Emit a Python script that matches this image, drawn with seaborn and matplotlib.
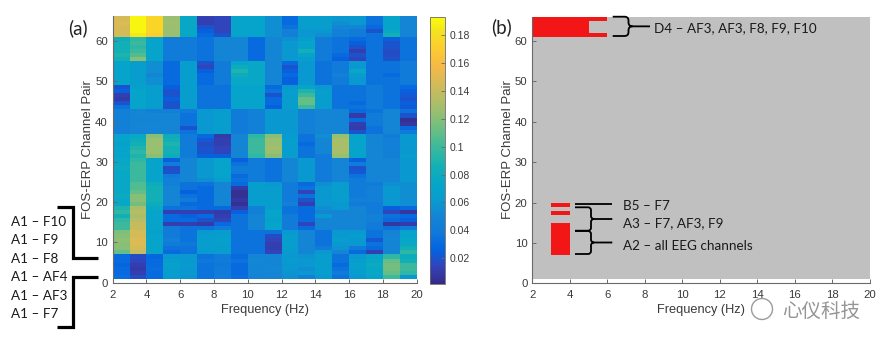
import numpy as np
import pandas as pd
import matplotlib
matplotlib.use("Agg")
import matplotlib.pyplot as plt
import seaborn as sns
from matplotlib.colors import LinearSegmentedColormap, ListedColormap
from matplotlib.path import Path
from matplotlib.patches import PathPatch, Ellipse
from matplotlib.lines import Line2D

# ---------------- data ----------------
freq_low = list(range(2, 20))          # lower edge of each 1 Hz bin (2..19 Hz)
channel_pairs = list(range(1, 67))     # FOS-ERP channel pair index

# coherence values per channel pair (rows) and frequency bin (columns)
pairs_01_06 = [
    [0.032,0.018,0.030,0.062,0.058,0.035,0.042,0.032,0.048,0.050,0.055,0.045,0.060,0.035,0.060,0.070,0.100,0.060],
    [0.030,0.012,0.030,0.065,0.060,0.035,0.040,0.030,0.050,0.050,0.058,0.060,0.065,0.040,0.065,0.075,0.110,0.095],
    [0.030,0.010,0.032,0.065,0.060,0.035,0.040,0.030,0.050,0.052,0.060,0.055,0.065,0.035,0.065,0.075,0.115,0.100],
    [0.028,0.012,0.030,0.068,0.062,0.035,0.038,0.030,0.050,0.050,0.060,0.060,0.065,0.030,0.068,0.078,0.115,0.100],
    [0.030,0.015,0.030,0.065,0.060,0.038,0.040,0.035,0.052,0.050,0.062,0.060,0.065,0.035,0.065,0.075,0.110,0.085],
    [0.030,0.018,0.028,0.060,0.060,0.035,0.040,0.030,0.050,0.050,0.060,0.058,0.065,0.035,0.060,0.070,0.095,0.080],
]
pairs_07_12 = [
    [0.110,0.140,0.070,0.030,0.035,0.062,0.065,0.035,0.035,0.015,0.062,0.050,0.060,0.050,0.030,0.012,0.050,0.095],
    [0.120,0.145,0.072,0.035,0.035,0.065,0.065,0.035,0.035,0.012,0.065,0.050,0.040,0.058,0.040,0.030,0.050,0.085],
    [0.120,0.148,0.070,0.040,0.038,0.065,0.065,0.035,0.035,0.012,0.065,0.050,0.035,0.060,0.060,0.035,0.050,0.075],
    [0.122,0.148,0.070,0.045,0.035,0.065,0.068,0.035,0.035,0.015,0.065,0.050,0.035,0.065,0.060,0.022,0.050,0.075],
    [0.120,0.145,0.070,0.040,0.035,0.065,0.065,0.035,0.035,0.018,0.065,0.050,0.035,0.060,0.065,0.035,0.050,0.070],
    [0.118,0.145,0.068,0.040,0.035,0.060,0.065,0.035,0.035,0.035,0.060,0.050,0.035,0.060,0.060,0.035,0.048,0.070],
]
pairs_13_18 = [
    [0.100,0.140,0.070,0.040,0.035,0.035,0.040,0.035,0.050,0.070,0.040,0.030,0.050,0.050,0.050,0.040,0.035,0.040],
    [0.100,0.140,0.070,0.012,0.012,0.010,0.030,0.035,0.050,0.070,0.040,0.015,0.050,0.050,0.050,0.040,0.008,0.010],
    [0.095,0.135,0.070,0.030,0.030,0.020,0.015,0.035,0.050,0.068,0.040,0.030,0.050,0.050,0.050,0.045,0.030,0.025],
    [0.085,0.130,0.070,0.030,0.025,0.030,0.012,0.035,0.050,0.070,0.040,0.030,0.060,0.050,0.050,0.045,0.035,0.030],
    [0.095,0.135,0.070,0.012,0.012,0.012,0.010,0.025,0.045,0.070,0.035,0.030,0.050,0.050,0.050,0.040,0.015,0.008],
    [0.090,0.130,0.075,0.035,0.035,0.030,0.030,0.012,0.045,0.065,0.035,0.030,0.055,0.060,0.050,0.040,0.025,0.030],
]
pairs_19_24 = [
    [0.075,0.115,0.080,0.050,0.030,0.030,0.050,0.005,0.065,0.065,0.045,0.012,0.060,0.060,0.040,0.040,0.060,0.055],
    [0.075,0.120,0.085,0.050,0.040,0.030,0.050,0.008,0.065,0.065,0.040,0.020,0.060,0.065,0.045,0.045,0.060,0.055],
    [0.078,0.120,0.085,0.050,0.035,0.030,0.050,0.005,0.065,0.065,0.040,0.035,0.060,0.065,0.040,0.045,0.060,0.055],
    [0.075,0.110,0.085,0.050,0.025,0.030,0.050,0.005,0.065,0.065,0.040,0.015,0.060,0.065,0.040,0.045,0.060,0.055],
    [0.075,0.105,0.085,0.050,0.035,0.030,0.050,0.010,0.065,0.065,0.040,0.035,0.060,0.065,0.040,0.045,0.060,0.055],
    [0.075,0.105,0.080,0.045,0.035,0.035,0.050,0.030,0.065,0.060,0.040,0.030,0.055,0.065,0.040,0.040,0.055,0.055],
]
pairs_25_30 = [
    [0.075,0.100,0.070,0.045,0.050,0.055,0.065,0.035,0.040,0.035,0.050,0.060,0.040,0.050,0.040,0.050,0.050,0.060],
    [0.075,0.100,0.070,0.040,0.050,0.060,0.070,0.030,0.040,0.035,0.050,0.060,0.040,0.050,0.035,0.050,0.050,0.060],
    [0.075,0.100,0.070,0.020,0.050,0.060,0.070,0.040,0.040,0.035,0.050,0.060,0.040,0.050,0.022,0.050,0.050,0.060],
    [0.078,0.100,0.070,0.018,0.050,0.060,0.070,0.040,0.040,0.035,0.050,0.060,0.040,0.050,0.020,0.050,0.050,0.060],
    [0.075,0.100,0.070,0.040,0.050,0.060,0.070,0.035,0.040,0.035,0.050,0.060,0.040,0.050,0.040,0.050,0.050,0.060],
    [0.075,0.095,0.070,0.025,0.050,0.060,0.070,0.025,0.040,0.035,0.050,0.060,0.040,0.050,0.025,0.050,0.050,0.060],
]
pairs_31_36 = [
    [0.070,0.090,0.120,0.080,0.040,0.025,0.025,0.050,0.095,0.120,0.065,0.035,0.040,0.125,0.070,0.050,0.045,0.065],
    [0.070,0.095,0.125,0.085,0.040,0.020,0.015,0.050,0.100,0.125,0.065,0.035,0.050,0.130,0.070,0.050,0.045,0.060],
    [0.070,0.090,0.125,0.085,0.040,0.020,0.015,0.050,0.100,0.128,0.065,0.035,0.050,0.130,0.070,0.050,0.045,0.060],
    [0.068,0.085,0.125,0.090,0.040,0.018,0.012,0.050,0.100,0.125,0.065,0.030,0.050,0.130,0.070,0.050,0.045,0.060],
    [0.070,0.080,0.125,0.085,0.040,0.022,0.012,0.050,0.100,0.125,0.065,0.035,0.050,0.130,0.070,0.050,0.045,0.060],
    [0.070,0.075,0.120,0.080,0.040,0.030,0.010,0.050,0.095,0.120,0.062,0.035,0.055,0.125,0.070,0.050,0.040,0.060],
]
pairs_37_42 = [
    [0.045,0.050,0.050,0.050,0.035,0.060,0.065,0.040,0.045,0.060,0.060,0.045,0.050,0.050,0.020,0.035,0.050,0.040],
    [0.045,0.050,0.050,0.050,0.020,0.060,0.065,0.040,0.045,0.060,0.060,0.045,0.050,0.050,0.010,0.035,0.050,0.030],
    [0.045,0.050,0.050,0.050,0.035,0.060,0.065,0.040,0.045,0.060,0.060,0.045,0.050,0.050,0.012,0.040,0.050,0.008],
    [0.045,0.048,0.048,0.050,0.035,0.060,0.065,0.040,0.045,0.060,0.060,0.045,0.050,0.050,0.030,0.040,0.050,0.005],
    [0.045,0.050,0.050,0.050,0.035,0.060,0.065,0.040,0.045,0.060,0.060,0.045,0.050,0.050,0.010,0.040,0.050,0.020],
    [0.045,0.050,0.045,0.045,0.040,0.060,0.065,0.040,0.045,0.060,0.060,0.045,0.050,0.050,0.030,0.035,0.050,0.035],
]
pairs_43_48 = [
    [0.035,0.070,0.065,0.020,0.065,0.035,0.035,0.070,0.070,0.025,0.065,0.100,0.065,0.035,0.035,0.040,0.035,0.022],
    [0.020,0.070,0.065,0.020,0.065,0.035,0.035,0.070,0.070,0.030,0.065,0.110,0.065,0.035,0.030,0.040,0.035,0.025],
    [0.010,0.070,0.065,0.025,0.065,0.035,0.035,0.070,0.070,0.030,0.065,0.110,0.065,0.035,0.035,0.040,0.035,0.020],
    [0.012,0.070,0.065,0.020,0.065,0.035,0.035,0.070,0.070,0.020,0.065,0.100,0.065,0.035,0.035,0.040,0.035,0.022],
    [0.025,0.070,0.065,0.020,0.065,0.035,0.035,0.070,0.070,0.035,0.065,0.090,0.065,0.035,0.035,0.040,0.035,0.025],
    [0.020,0.068,0.065,0.025,0.065,0.035,0.035,0.070,0.070,0.030,0.060,0.070,0.060,0.035,0.035,0.040,0.035,0.030],
]
pairs_49_54 = [
    [0.070,0.065,0.055,0.030,0.065,0.030,0.040,0.075,0.075,0.050,0.025,0.060,0.035,0.040,0.060,0.035,0.035,0.040],
    [0.070,0.065,0.055,0.030,0.065,0.030,0.040,0.075,0.075,0.050,0.025,0.060,0.035,0.040,0.060,0.035,0.035,0.040],
    [0.070,0.065,0.050,0.030,0.065,0.030,0.040,0.080,0.075,0.050,0.030,0.060,0.035,0.045,0.065,0.035,0.030,0.040],
    [0.070,0.065,0.055,0.030,0.065,0.025,0.040,0.090,0.075,0.050,0.025,0.060,0.035,0.040,0.075,0.035,0.035,0.040],
    [0.070,0.065,0.055,0.030,0.065,0.015,0.040,0.080,0.075,0.050,0.020,0.060,0.035,0.040,0.060,0.035,0.035,0.040],
    [0.070,0.065,0.055,0.030,0.065,0.020,0.040,0.070,0.075,0.050,0.030,0.060,0.035,0.040,0.060,0.035,0.035,0.040],
]
pairs_55_60 = [
    [0.085,0.120,0.070,0.040,0.040,0.035,0.050,0.050,0.030,0.050,0.060,0.065,0.040,0.025,0.015,0.035,0.020,0.035],
    [0.090,0.105,0.070,0.040,0.040,0.035,0.050,0.050,0.030,0.050,0.060,0.070,0.040,0.030,0.020,0.035,0.018,0.035],
    [0.085,0.100,0.070,0.040,0.040,0.035,0.050,0.050,0.030,0.050,0.060,0.085,0.040,0.035,0.012,0.035,0.018,0.035],
    [0.085,0.095,0.070,0.040,0.040,0.035,0.050,0.050,0.030,0.050,0.060,0.070,0.040,0.035,0.020,0.035,0.020,0.035],
    [0.085,0.100,0.070,0.040,0.040,0.035,0.050,0.050,0.030,0.050,0.060,0.070,0.040,0.035,0.025,0.035,0.020,0.035],
    [0.080,0.095,0.070,0.040,0.040,0.035,0.050,0.050,0.030,0.050,0.055,0.065,0.040,0.035,0.030,0.035,0.025,0.035],
]
pairs_61_66 = [
    [0.145,0.185,0.170,0.125,0.075,0.030,0.020,0.070,0.070,0.055,0.045,0.060,0.055,0.045,0.040,0.035,0.085,0.050],
    [0.145,0.190,0.175,0.125,0.075,0.025,0.015,0.070,0.070,0.055,0.045,0.060,0.060,0.045,0.040,0.020,0.075,0.050],
    [0.145,0.190,0.175,0.125,0.075,0.020,0.015,0.070,0.070,0.055,0.035,0.065,0.065,0.050,0.050,0.030,0.070,0.050],
    [0.148,0.190,0.175,0.128,0.075,0.012,0.015,0.070,0.070,0.055,0.030,0.065,0.065,0.055,0.060,0.035,0.070,0.050],
    [0.145,0.190,0.175,0.125,0.075,0.012,0.015,0.070,0.070,0.055,0.030,0.065,0.065,0.060,0.060,0.035,0.070,0.050],
    [0.145,0.190,0.175,0.125,0.075,0.015,0.015,0.070,0.070,0.055,0.030,0.065,0.065,0.060,0.060,0.035,0.070,0.050],
]

# significant (red) cells in panel (b): channel pairs per frequency bin
sig_2to3_hz = [61, 62, 63, 64, 65, 66]
sig_3to4_hz = [7, 8, 9, 10, 11, 12, 13, 14, 17, 19, 61, 62, 63, 64, 65, 66]
sig_4to5_hz = [61, 62, 63, 64, 65, 66]
sig_5to6_hz = [61, 65, 66]

x_ticks = [2, 4, 6, 8, 10, 12, 14, 16, 18, 20]
y_ticks = [0, 10, 20, 30, 40, 50, 60]
cbar_ticks = [0.02, 0.04, 0.06, 0.08, 0.10, 0.12, 0.14, 0.16, 0.18]
c_min, c_max = 0.0016, 0.1927

left_pair_labels = ["A1 \u2013 F10", "A1 \u2013 F9", "A1 \u2013 F8",
                    "A1 \u2013 AF4", "A1 \u2013 AF3", "A1 \u2013 F7"]
right_labels = ["D4 \u2013 AF3, AF3, F8, F9, F10", "B5 \u2013 F7",
                "A3 \u2013 F7, AF3, F9", "A2 \u2013 all EEG channels"]

# ---------------- style ----------------
plt.rcParams['font.family'] = ['Liberation Sans', 'DejaVu Sans']

parula_anchors = [
    (0.2081, 0.1663, 0.5292), (0.1959, 0.2645, 0.7279), (0.0117, 0.3875, 0.8820),
    (0.0629, 0.4737, 0.8554), (0.0793, 0.5200, 0.8312), (0.0265, 0.6137, 0.8135),
    (0.0228, 0.6535, 0.7768), (0.0843, 0.6928, 0.7062), (0.2178, 0.7250, 0.6193),
    (0.3953, 0.7459, 0.5244), (0.5709, 0.7485, 0.4494), (0.7184, 0.7411, 0.3905),
    (0.8507, 0.7299, 0.3360), (0.9739, 0.7314, 0.2666), (0.9880, 0.8066, 0.1794),
    (0.9589, 0.8949, 0.1132), (0.9763, 0.9831, 0.0538)]
parula_pos = [0, 4, 8, 12, 16, 20, 24, 28, 32, 36, 40, 44, 48, 52, 56, 60, 63]
parula = LinearSegmentedColormap.from_list(
    "parula", [(p / 63, c) for p, c in zip(parula_pos, parula_anchors)])

W, H = 896, 344
fig = plt.figure(figsize=(W / 100, H / 100), dpi=100)


def fx(x):
    return x / W


def fy(y):
    return 1 - y / H


axis_col = '#6a6a6a'
text_col = '#3a3a3a'

# ---------------- panel (a) ----------------
coh = np.array(pairs_01_06 + pairs_07_12 + pairs_13_18 + pairs_19_24 + pairs_25_30 +
               pairs_31_36 + pairs_37_42 + pairs_43_48 + pairs_49_54 + pairs_55_60 +
               pairs_61_66)
df = pd.DataFrame(coh, index=channel_pairs, columns=freq_low)

axL = fig.add_axes([fx(112.7), fy(282.7), fx(416.7) - fx(112.7), fy(16) - fy(282.7)])
cax = fig.add_axes([fx(430), fy(284), fx(445) - fx(430), fy(17.3) - fy(284)])
sns.heatmap(df, ax=axL, cmap=parula, vmin=c_min, vmax=c_max, cbar_ax=cax,
            xticklabels=False, yticklabels=False)

# ---------------- panel (b) ----------------
axR = fig.add_axes([fx(532.3), fy(283.3), fx(870) - fx(532.3), fy(16.7) - fy(283.3)])
sig = np.zeros((len(channel_pairs), len(freq_low)))
for f_lo, pairs in zip([2, 3, 4, 5], [sig_2to3_hz, sig_3to4_hz, sig_4to5_hz, sig_5to6_hz]):
    for p in pairs:
        sig[channel_pairs.index(p), freq_low.index(f_lo)] = 1
df_sig = pd.DataFrame(sig, index=channel_pairs, columns=freq_low)
sns.heatmap(df_sig, ax=axR, cmap=ListedColormap(['#c0c0c0', '#f21616']), vmin=0, vmax=1,
            cbar=False, xticklabels=False, yticklabels=False)

first_pair = channel_pairs[0]
for ax, ytop in [(axL, 66.2), (axR, 66.05)]:
    ax.set_xlim(0, len(freq_low))
    ax.set_ylim(0 - first_pair, ytop - first_pair)
    ax.set_xticks([v - freq_low[0] for v in x_ticks])
    ax.set_xticklabels([str(v) for v in x_ticks], rotation=0)
    ax.set_yticks([v - first_pair for v in y_ticks])
    ax.set_yticklabels([str(v) for v in y_ticks], rotation=0)
    for s in ['left', 'bottom']:
        ax.spines[s].set_visible(True)
        ax.spines[s].set_color(axis_col)
        ax.spines[s].set_linewidth(0.8)
    for s in ['right', 'top']:
        ax.spines[s].set_visible(False)
    ax.tick_params(axis='both', direction='in', length=3, width=0.7, color=axis_col,
                   labelsize=8.2, labelcolor=text_col)
    ax.tick_params(axis='x', pad=5)
    ax.tick_params(axis='y', pad=3.5)
    ax.set_xlabel("Frequency (Hz)", fontsize=9.2, color=text_col)
    ax.set_ylabel("FOS-ERP Channel Pair", fontsize=9.5, color=text_col)

axL.xaxis.set_label_coords(0.5, -0.078)
axR.xaxis.set_label_coords(0.5, -0.078)
axL.yaxis.set_label_coords(-0.062, 0.5)
axR.yaxis.set_label_coords(-0.055, 0.5)

# colorbar
cb = axL.collections[0].colorbar
cb.set_ticks(cbar_ticks)
cb.set_ticklabels([f"{v:g}" for v in cbar_ticks])
cb.outline.set_linewidth(0.6)
cb.outline.set_edgecolor(axis_col)
cax.tick_params(direction='in', length=3, width=0.6, color=axis_col,
                labelsize=7.5, labelcolor=text_col, pad=3)

# panel labels
ann_font = ['Lato', 'DejaVu Sans']
fig.text(fx(77.7), fy(28), "(a)", ha='center', va='center', fontsize=13.5,
         family=ann_font, color='#222222')
fig.text(fx(501.7), fy(27), "(b)", ha='center', va='center', fontsize=13.5,
         family=ann_font, color='#222222')

# left channel labels and brackets
for i, lab in enumerate(left_pair_labels):
    fig.text(fx(11), fy(226 + 18.4 * i), lab, ha='left', va='baseline',
             fontsize=9.7, family=ann_font, color='#1a1a1a')


def poly(pts, lw):
    xs = [fx(p[0]) for p in pts]
    ys = [fy(p[1]) for p in pts]
    fig.add_artist(Line2D(xs, ys, transform=fig.transFigure, color='black',
                          lw=lw, solid_joinstyle='miter', solid_capstyle='butt'))


poly([(56.7, 206.7), (72.7, 206.7), (72.7, 257.7), (97.7, 257.7)], 2.3)
poly([(97.7, 276.5), (72.7, 276.5), (72.7, 326.7), (56.7, 326.7)], 2.3)


def brace(x0, xv, xe, yt, yb, r):
    ym = (yt + yb) / 2
    pts = [(x0, yt), (xv - r, yt), (xv, yt), (xv, yt + r), (xv, ym - r), (xv, ym), (xv + r, ym),
           (xe, ym),
           (x0, yb), (xv - r, yb), (xv, yb), (xv, yb - r), (xv, ym + r), (xv, ym), (xv + r, ym)]
    codes = [Path.MOVETO, Path.LINETO, Path.CURVE3, Path.CURVE3, Path.LINETO, Path.CURVE3,
             Path.CURVE3, Path.LINETO,
             Path.MOVETO, Path.LINETO, Path.CURVE3, Path.CURVE3, Path.LINETO, Path.CURVE3,
             Path.CURVE3]
    verts = [(fx(a), fy(b)) for a, b in pts]
    fig.add_artist(PathPatch(Path(verts, codes), transform=fig.transFigure,
                             facecolor='none', edgecolor='black', lw=1.3))


brace(612.7, 628.5, 650, 16.7, 36, 4)
brace(575, 591, 612.3, 207.3, 230.7, 3)
brace(575, 591, 612.3, 231, 254, 3)
poly([(575, 204.3), (612.3, 204.3)], 1.3)

for (tx, ty), lab in zip([(654, 32.3), (623.3, 210), (623.3, 227.5), (623.3, 250)], right_labels):
    fig.text(fx(tx), fy(ty), lab, ha='left', va='baseline', fontsize=9.7,
             family=ann_font, color='#1a1a1a')

# watermark
fig.add_artist(Ellipse((fx(762), fy(309)), 21 / W, 21 / H, transform=fig.transFigure,
                       facecolor='white', edgecolor='#8a8a8a', lw=1.0, alpha=0.85))
fig.text(fx(782), fy(311), "心仪科技", ha='left', va='center', fontsize=14,
         family=['Noto Sans CJK SC', 'DejaVu Sans'], color='#8a8a8a', alpha=0.9)

fig.savefig("out.png", dpi=100)
